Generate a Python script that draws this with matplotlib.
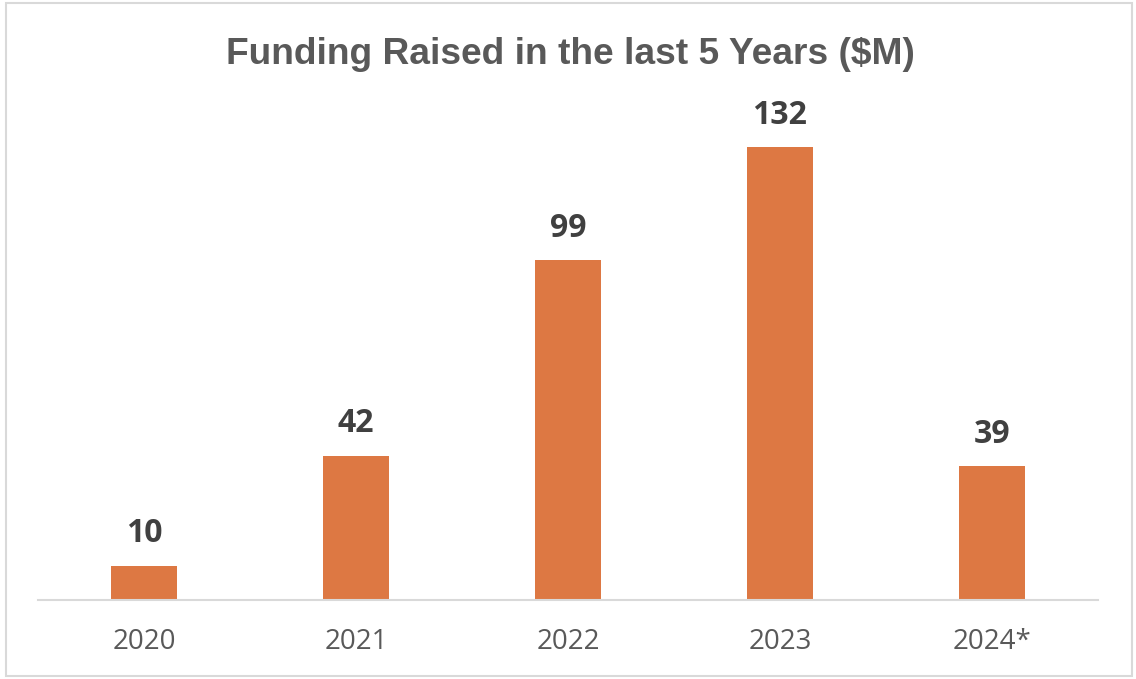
import matplotlib
matplotlib.use("Agg")
import matplotlib.pyplot as plt
from matplotlib import font_manager as fm
from matplotlib.patches import Rectangle

years = ["2020", "2021", "2022", "2023", "2024*"]
funding = [10, 42, 99, 132, 39]
title = "Funding Raised in the last 5 Years ($M)"

names = {f.name for f in fm.fontManager.ttflist}
narrow = "Liberation Sans Narrow" if "Liberation Sans Narrow" in names else "Liberation Sans"
base = "Open Sans" if "Open Sans" in names else "DejaVu Sans"

W, H = 1136, 679
fig = plt.figure(figsize=(W / 100, H / 100), dpi=100)
fig.patch.set_facecolor("white")
fig.patches.append(Rectangle((6 / W, 3 / H), 1126 / W, 673 / H, transform=fig.transFigure,
                             fill=False, edgecolor="#D9D9D9", linewidth=1.5))

ax = fig.add_axes([38 / W, (H - 600) / H, 1060 / W, 500 / H])
x = list(range(len(years)))
bars = ax.bar(x, funding, width=0.31, color="#DD7843", zorder=2)
ax.set_xlim(-0.5, len(years) - 0.5)
ax.set_ylim(0, 500 / 3.43)
for s in ["top", "right", "left"]:
    ax.spines[s].set_visible(False)
ax.spines["bottom"].set_color("#D9D9D9")
ax.spines["bottom"].set_linewidth(1.5)
ax.set_yticks([])
ax.set_xticks(x)
ax.set_xticklabels(years, fontfamily=base, fontsize=20, color="#595959")
ax.tick_params(axis="x", length=0, pad=20)

for xi, v in zip(x, funding):
    ax.annotate(f"{v}", (xi, v), xytext=(0, 17), textcoords="offset points",
                ha="center", va="baseline", fontfamily=base, fontweight="bold",
                fontsize=23, color="#404040")

t = fig.text(570 / W, 1 - 55 / H, title, ha="center", va="center",
             fontfamily=narrow, fontweight="bold", fontsize=30, color="#595959")
fig.canvas.draw()
bb = t.get_window_extent()
t.set_fontsize(30 * 690 / bb.width)

fig.savefig("out.png", dpi=100)
